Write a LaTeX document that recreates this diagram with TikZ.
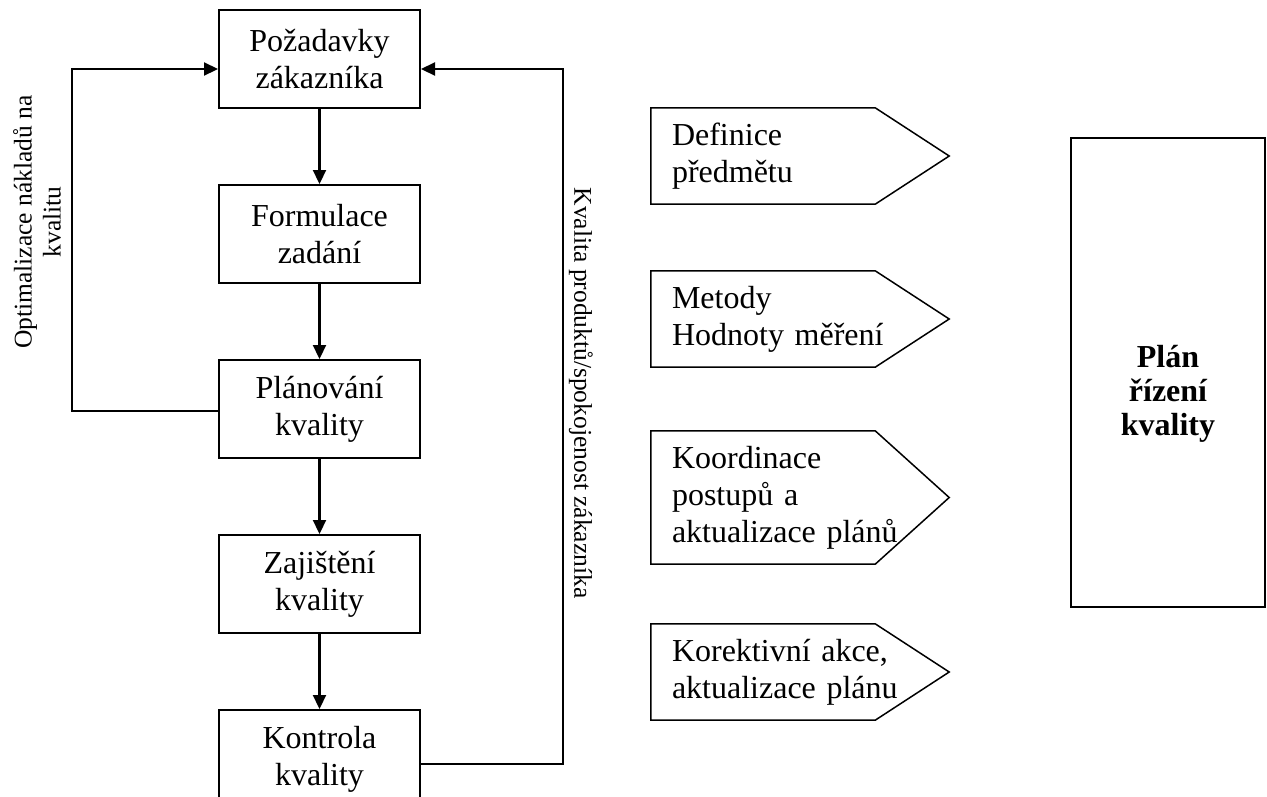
\documentclass[tikz,border=0pt]{standalone}
\usepackage{fontspec}
\setmainfont{Liberation Serif}
\usetikzlibrary{positioning,arrows.meta}

\begin{document}
\begin{tikzpicture}[x=1pt, y=-1pt, >={Triangle[length=14pt,width=13pt]}, node distance=75pt,
  every node/.style={font=\fontsize{32pt}{37pt}\selectfont},
  stage/.style={draw, line width=2pt, minimum width=201pt, minimum height=98pt, align=center, inner sep=0pt},
  sign/.style={minimum width=224pt, text width=182pt, inner xsep=21pt, inner ysep=0pt, align=left},
  flow/.style={->, line width=2.2pt},
  sidelabel/.style={font=\fontsize{25.5pt}{29pt}\selectfont, align=center}]
  \useasboundingbox (0,0) rectangle (1267,796);

  % left chain
  \node[stage] (pz) at (319.5,59) {Požadavky\\zákazníka};
  \node[stage] (fz) [below=of pz] {Formulace\\zadání};
  \node[stage] (pk) [below=of fz] {Plánování\\kvality};
  \node[stage] (zk) [below=of pk] {Zajištění\\kvality};
  \node[stage] (kk) [below=of zk] {Kontrola\\kvality};
  \draw[flow] (pz) -- (fz);
  \draw[flow] (fz) -- (pk);
  \draw[flow] (pk) -- (zk);
  \draw[flow] (zk) -- (kk);

  % feedback loops
  \draw[flow] ([yshift=-2pt]pk.west) -- ++(-146,0) |- ([yshift=-10pt]pz.west);
  \draw[flow] ([yshift=-5pt]kk.east) -- ++(142,0) |- ([yshift=-10pt]pz.east);
  \node[sidelabel, rotate=90] (optlabel) at (37,222) {Optimalizace nákladů na\\kvalitu};
  \node[sidelabel, rotate=-90] (kvlabel) at (581,393) {Kvalita produktů/spokojenost zákazníka};

  % signs
  \node[sign, minimum height=96pt] (def) at (763,156) {Definice\\předmětu};
  \node[sign, minimum height=96pt] (met) at (763,319) {Metody\\Hodnoty~měření};
  \node[sign, minimum height=133pt] (koo) at (763,497.5) {Koordinace\\postupů a\\aktualizace~plánů};
  \node[sign, minimum height=96pt] (kor) at (763,672) {Korektivní~akce,\\aktualizace~plánu};
  \foreach \s in {def,met,koo,kor}
    \draw[line width=1.5pt] (\s.north west) -- (\s.north east) -- ([xshift=74pt]\s.east) -- (\s.south east) -- (\s.south west) -- cycle;

  % plan
  \node[draw, line width=2pt, minimum width=194pt, minimum height=469pt] (plan) at (1168,372.5) {};
  \node[align=center, font=\bfseries\fontsize{32pt}{34pt}\selectfont] (plantext) at (1168,394) {Plán\\řízení\\kvality};
\end{tikzpicture}
\end{document}
